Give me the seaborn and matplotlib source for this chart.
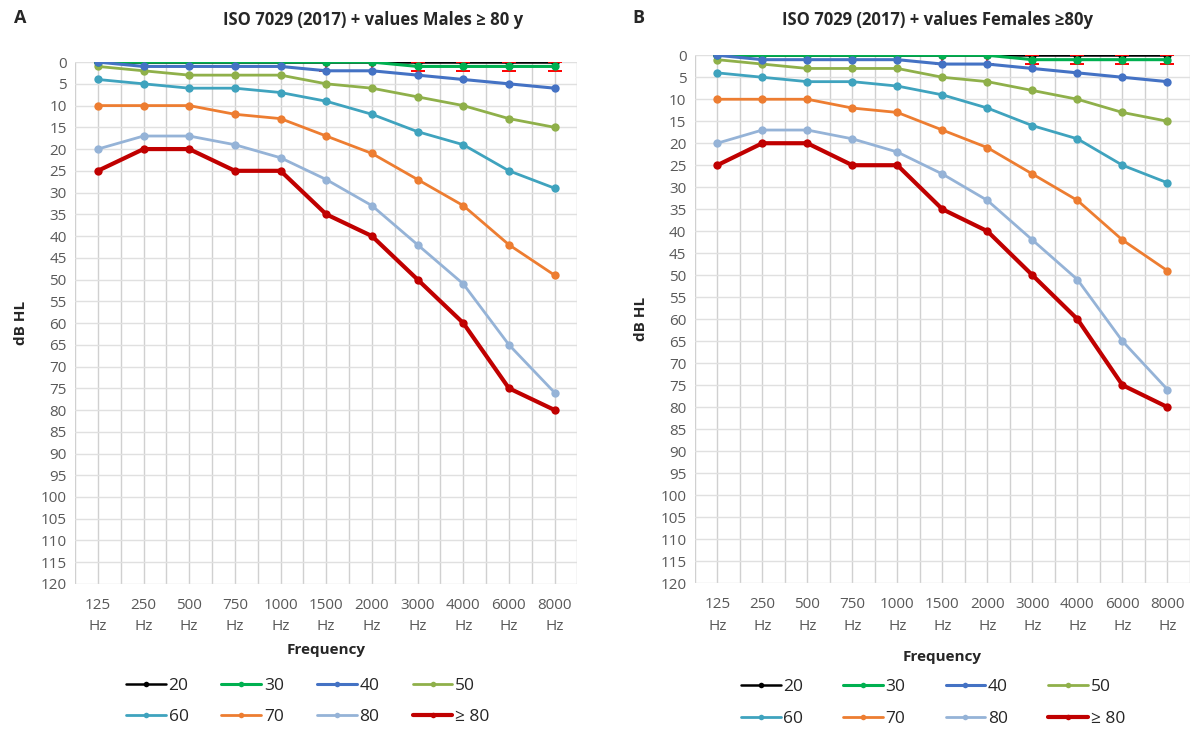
import matplotlib
matplotlib.use("Agg")
import matplotlib.pyplot as plt
import numpy as np
import pandas as pd
import seaborn as sns
from matplotlib.lines import Line2D

freqs = ['125', '250', '500', '750', '1000', '1500', '2000', '3000', '4000', '6000', '8000']
groups = ['20', '30', '40', '50', '60', '70', '80', '≥ 80']

males_20 = [0, 0, 0, 0, 0, 0, 0, 0, 0, 0, 0]
males_30 = [0, 0, 0, 0, 0, 0, 0, 1, 1, 1, 1]
males_40 = [0, 1, 1, 1, 1, 2, 2, 3, 4, 5, 6]
males_50 = [1, 2, 3, 3, 3, 5, 6, 8, 10, 13, 15]
males_60 = [4, 5, 6, 6, 7, 9, 12, 16, 19, 25, 29]
males_70 = [10, 10, 10, 12, 13, 17, 21, 27, 33, 42, 49]
males_80 = [20, 17, 17, 19, 22, 27, 33, 42, 51, 65, 76]
males_80plus = [25, 20, 20, 25, 25, 35, 40, 50, 60, 75, 80]

females_20 = [0, 0, 0, 0, 0, 0, 0, 0, 0, 0, 0]
females_30 = [0, 0, 0, 0, 0, 0, 0, 1, 1, 1, 1]
females_40 = [0, 1, 1, 1, 1, 2, 2, 3, 4, 5, 6]
females_50 = [1, 2, 3, 3, 3, 5, 6, 8, 10, 13, 15]
females_60 = [4, 5, 6, 6, 7, 9, 12, 16, 19, 25, 29]
females_70 = [10, 10, 10, 12, 13, 17, 21, 27, 33, 42, 49]
females_80 = [20, 17, 17, 19, 22, 27, 33, 42, 51, 65, 76]
females_80plus = [25, 20, 20, 25, 25, 35, 40, 50, 60, 75, 80]

# small red error caps below the 0 line (1500 Hz .. 8000 Hz)
err_low = [0, 0, 0, 0, 0, 2, 2, 2, 2, 2, 2]

colors = ['#000000', '#00B050', '#4472C4', '#8FB04A', '#3FA3BE', '#ED7D31', '#95B3D7', '#C00000']
widths = [1.8, 2.2, 2.2, 2.0, 2.0, 2.0, 2.0, 3.0]

males = [males_20, males_30, males_40, males_50, males_60, males_70, males_80, males_80plus]
females = [females_20, females_30, females_40, females_50, females_60, females_70, females_80, females_80plus]

sns.set_style("white")
plt.rcParams['font.family'] = ['Open Sans', 'DejaVu Sans']

fig = plt.figure(figsize=(12.02, 7.33), dpi=100)
ax1 = fig.add_axes([0.0624, 0.2033, 0.418, 0.712])
ax2 = fig.add_axes([0.578, 0.2046, 0.412, 0.720])

tick_col = '#595959'
grid_col = '#D0D0D0'


def draw(ax, data, xpad):
    x = np.arange(len(freqs))
    ax.errorbar(x[5:], [0] * 6, yerr=[[0] * 6, err_low[5:]], fmt='none',
                ecolor='#FF0000', elinewidth=1.2, capsize=5, capthick=1.4, zorder=3.4)
    # z-order: green above black, blue above green at the start
    zo = {0: 3.0, 1: 3.5, 2: 3.7, 3: 3.2, 4: 3.2, 5: 3.2, 6: 3.2, 7: 3.3}
    for i in range(len(groups)):
        df = pd.DataFrame({'x': x, 'y': data[i]})
        sns.lineplot(data=df, x='x', y='y', ax=ax, color=colors[i], lw=widths[i],
                     marker='o', markersize=6, markeredgewidth=0, zorder=zo[i])
    ax.set_xlim(-0.5, len(freqs) - 0.5)
    ax.set_ylim(120, 0)
    ax.set_yticks(np.arange(0, 121, 5))
    ax.set_xticks(x)
    ax.set_xticks(np.arange(-0.5, len(freqs), 1), minor=True)
    ax.set_xticklabels([f + '\nHz' for f in freqs], color=tick_col, fontsize=11, linespacing=1.6)
    ax.tick_params(axis='y', labelcolor=tick_col, labelsize=11, length=0, pad=6)
    ax.tick_params(axis='x', which='both', length=0, pad=10)
    ax.grid(True, which='both', axis='x', color=grid_col, lw=1)
    ax.grid(True, which='major', axis='y', color='#E0E0E0', lw=1)
    for s in ax.spines.values():
        s.set_visible(False)
    ax.set_xlabel('Frequency', fontsize=11, fontweight='bold', labelpad=xpad)
    ax.set_ylabel('dB HL', fontsize=11, fontweight='bold', labelpad=9)
    ax.set_axisbelow(True)


draw(ax1, males, 6)
draw(ax2, females, 12)

fig.text(0.31, 0.973, 'ISO 7029 (2017) + values Males ≥ 80 y', ha='center', va='center',
         fontsize=12, fontweight='bold')
fig.text(0.78, 0.973, 'ISO 7029 (2017) + values Females ≥80y', ha='center', va='center',
         fontsize=12, fontweight='bold')
fig.text(0.012, 0.975, 'A', fontsize=13, fontweight='bold', va='center')
fig.text(0.526, 0.975, 'B', fontsize=13, fontweight='bold', va='center')

handles = [Line2D([0], [0], color=colors[i], lw=widths[i], marker='o', markersize=4,
                  markeredgewidth=0) for i in range(len(groups))]
# legend fills column by column: reorder so rows read 20 30 40 50 / 60 70 80 >=80
col_order = [0, 4, 1, 5, 2, 6, 3, 7]
h_ord = [handles[i] for i in col_order]
l_ord = [groups[i] for i in col_order]
for cx, cy, cs in [(0.256, 0.043, 1.9), (0.776, 0.041, 2.3)]:
    fig.legend(h_ord, l_ord, loc='center', bbox_to_anchor=(cx, cy), ncol=4,
               frameon=False, fontsize=12.5, handlelength=2.3, handletextpad=0.15,
               columnspacing=cs, labelspacing=0.9)

fig.savefig('out.png', dpi=100)
